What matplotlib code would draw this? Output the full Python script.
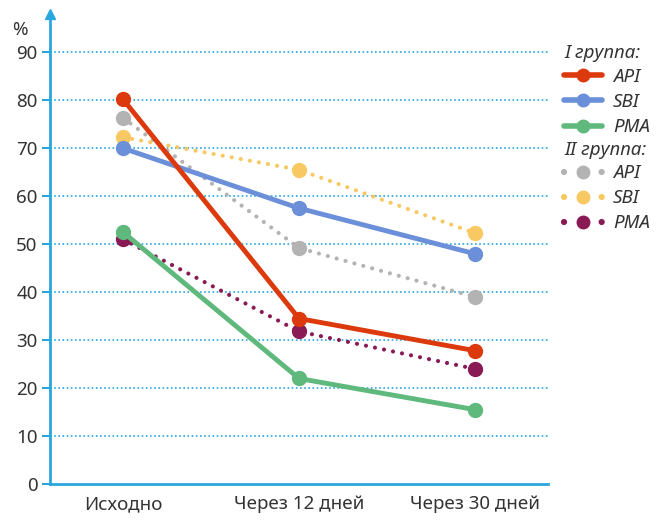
import matplotlib.pyplot as plt
from matplotlib.lines import Line2D

# Data
periods = ["Исходно", "Через 12 дней", "Через 30 дней"]
api_1 = [80.2, 34.5, 27.8]
sbi_1 = [70.0, 57.5, 48.0]
pma_1 = [52.5, 22.0, 15.5]
api_2 = [76.3, 49.2, 39.0]
sbi_2 = [72.3, 65.5, 52.3]
pma_2 = [51.0, 31.8, 24.0]
yticks = [0, 10, 20, 30, 40, 50, 60, 70, 80, 90]

c_api1, c_sbi1, c_pma1 = "#dc3a0c", "#6b8fd9", "#5fb87c"
c_api2, c_sbi2, c_pma2 = "#b3b3b3", "#f8c962", "#8a1a55"
axis_col = "#2aa6df"
text_col = "#333333"

plt.rcParams["font.family"] = ["Noto Sans", "DejaVu Sans"]
fs = 13.5

fig = plt.figure(figsize=(6.6, 5.2), dpi=100)
ax = fig.add_axes([0.0758, 0.0692, 0.7545, 0.904])

x = list(range(len(periods)))

solid = dict(lw=3.5, marker="o", ms=10, solid_capstyle="round", zorder=3)
dotted = dict(lw=3, marker="o", ms=10, linestyle=(0, (0.01, 2.2)),
              dash_capstyle="round", zorder=2)

ax.plot(x, api_2, color=c_api2, **dotted)
ax.plot(x, sbi_2, color=c_sbi2, **dotted)
ax.plot(x, pma_2, color=c_pma2, **dotted)
ax.plot(x, pma_1, color=c_pma1, **solid)
ax.plot(x, sbi_1, color=c_sbi1, **solid)
ax.plot(x, api_1, color=c_api1, **solid)

ax.set_xlim(-0.415, 2.415)
ax.set_ylim(0, 98)
ax.set_yticks(yticks)
ax.set_xticks(x)
ax.set_xticklabels(periods)
ax.tick_params(axis="y", length=6, width=1.5, color=axis_col, labelsize=fs,
               labelcolor=text_col, pad=3)
ax.tick_params(axis="x", length=0, labelsize=fs, labelcolor=text_col, pad=8)

for t in yticks[1:]:
    ax.axhline(t, color=axis_col, lw=1.2, linestyle=(0, (1, 1.5)), zorder=1)

for side in ["top", "right"]:
    ax.spines[side].set_visible(False)
for side in ["left", "bottom"]:
    ax.spines[side].set_color(axis_col)
    ax.spines[side].set_linewidth(2)

# arrow on top of the y axis
ax.plot(0, 1, marker="^", ms=7, color=axis_col, transform=ax.transAxes,
        clip_on=False, zorder=5)
ax.text(-0.045, 0.965, "%", transform=ax.transAxes, ha="right", va="center",
        fontsize=fs, color=text_col)

def handle(color, style):
    if style == "solid":
        return Line2D([], [], color=color, lw=4, marker="o", ms=9,
                      solid_capstyle="round")
    return Line2D([], [], color=color, lw=4.5, marker="o", ms=9,
                  linestyle=(0, (0.01, 3.0)), dash_capstyle="round")

leg_kw = dict(frameon=False, handlelength=2.0, handletextpad=0.6,
              labelspacing=0.38, alignment="left", borderpad=0.2,
              prop={"style": "italic", "size": fs},
              title_fontproperties={"style": "italic", "size": fs})

leg1 = fig.legend([handle(c_api1, "solid"), handle(c_sbi1, "solid"),
                   handle(c_pma1, "solid")], ["API", "SBI", "PMA"],
                  title="I группа:", loc="upper left",
                  bbox_to_anchor=(0.835, 0.94), **leg_kw)
leg2 = fig.legend([handle(c_api2, "dot"), handle(c_sbi2, "dot"),
                   handle(c_pma2, "dot")], ["API", "SBI", "PMA"],
                  title="II группа:", loc="upper left",
                  bbox_to_anchor=(0.835, 0.755), **leg_kw)
for leg in (leg1, leg2):
    for t in leg.get_texts():
        t.set_color(text_col)
    leg.get_title().set_color(text_col)
    leg._legend_box.sep = 4

fig.savefig("out.png", dpi=100)
